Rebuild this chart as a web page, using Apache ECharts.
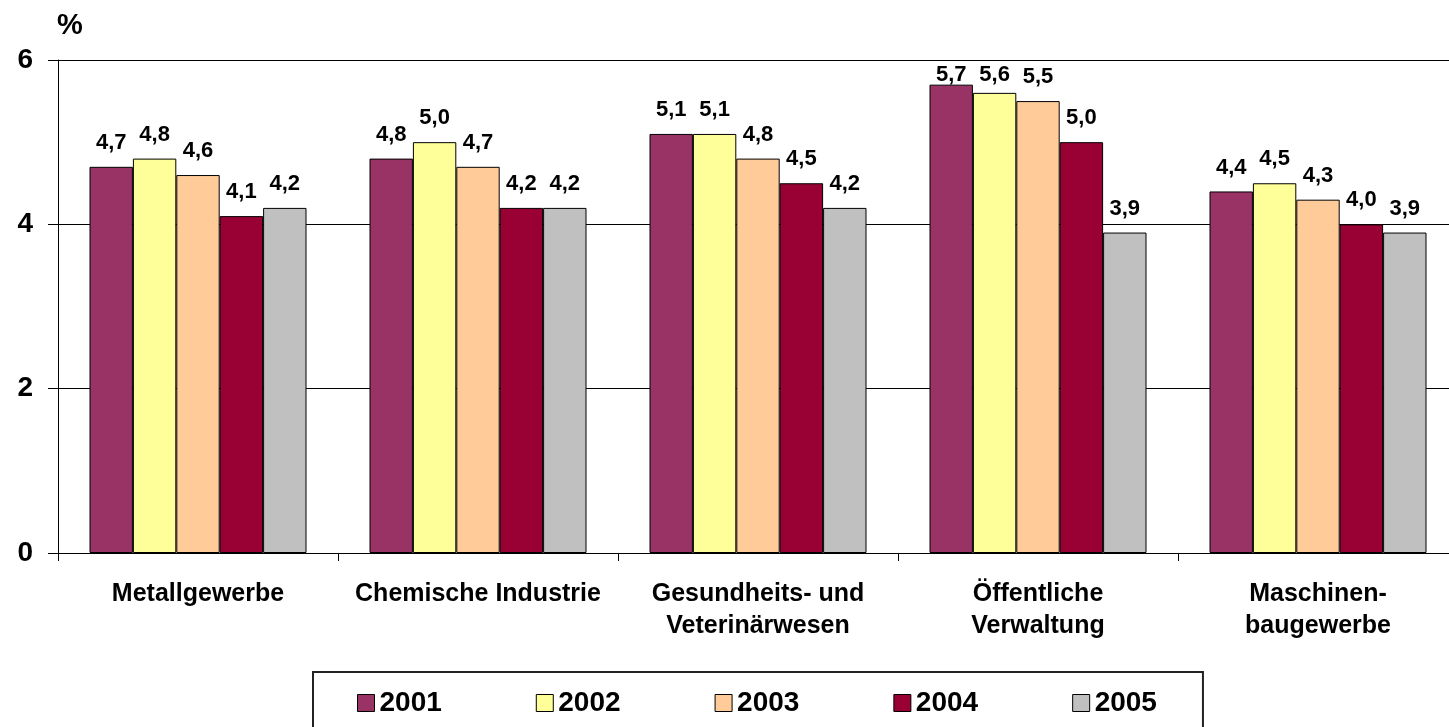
<!DOCTYPE html>
<html>
<head>
<meta charset="utf-8">
<script src="https://cdn.jsdelivr.net/npm/echarts@6/dist/echarts.min.js"></script>
<style>
  html, body { margin: 0; padding: 0; background: #fff; }
  #chart { width: 1449px; height: 727px; }
</style>
</head>
<body>
<div id="chart"></div>
<script>
// Branchen (Kategorien)
const categories = [
  'Metallgewerbe',
  'Chemische Industrie',
  'Gesundheits- und\nVeterinärwesen',
  'Öffentliche\nVerwaltung',
  'Maschinen-\nbaugewerbe'
];
const years = ['2001', '2002', '2003', '2004', '2005'];
// Werte in %, je Jahr
const values2001 = [4.7, 4.8, 5.1, 5.7, 4.4];
const values2002 = [4.8, 5.0, 5.1, 5.6, 4.5];
const values2003 = [4.6, 4.7, 4.8, 5.5, 4.3];
const values2004 = [4.1, 4.2, 4.5, 5.0, 4.0];
const values2005 = [4.2, 4.2, 4.2, 3.9, 3.9];
const yTicks = [0, 2, 4, 6];

const allValues = [values2001, values2002, values2003, values2004, values2005];
const colors = ['#993366', '#FFFF99', '#FFCC99', '#990033', '#C0C0C0'];
const font = 'Liberation Sans, Arial, sans-serif';

const chart = echarts.init(document.getElementById('chart'));

// Labels near the top of the plot get pulled down like Excel does
const pxPerUnit = 493 / 6;
function labelDist(v) {
  return Math.min(13, (6 - v) * pxPerUnit - 26);
}

const series = years.map((y, i) => ({
  name: y,
  type: 'bar',
  barGap: '0%',
  barCategoryGap: '22.5%',
  itemStyle: { color: colors[i], borderColor: '#000', borderWidth: 1 },
  label: {
    show: true,
    position: 'top',
    color: '#000',
    fontFamily: font,
    fontWeight: 'bold',
    fontSize: 22,
    formatter: p => p.value.toFixed(1).replace('.', ',')
  },
  data: allValues[i].map(v => ({ value: v, label: { distance: labelDist(v) } }))
}));

const option = {
  animation: false,
  backgroundColor: '#fff',
  title: {
    text: '%',
    left: 52,
    top: 6,
    textStyle: { fontFamily: font, fontWeight: 'bold', fontSize: 29, color: '#000' }
  },
  legend: {
    data: years,
    left: 313,
    top: 672,
    orient: 'horizontal',
    padding: [17, 46, 17, 44],
    borderColor: '#222',
    borderWidth: 2,
    icon: 'rect',
    itemWidth: 17,
    itemHeight: 17,
    itemGap: 94,
    itemStyle: { borderColor: '#000', borderWidth: 1 },
    textStyle: { fontFamily: font, fontWeight: 'bold', fontSize: 28, color: '#000' }
  },
  // plot area runs past the right edge of the picture, as in the original
  grid: { left: 58, top: 60, width: 1400, height: 493, outerBoundsMode: 'none', containLabel: false },
  xAxis: {
    type: 'category',
    data: categories,
    axisLine: { lineStyle: { color: '#000', width: 1 } },
    axisTick: { show: true, length: 8, lineStyle: { color: '#000' } },
    axisLabel: {
      interval: 0,
      margin: 25,
      color: '#000',
      fontFamily: font,
      fontWeight: 'bold',
      fontSize: 25,
      lineHeight: 32
    }
  },
  yAxis: {
    type: 'value',
    min: yTicks[0],
    max: yTicks[yTicks.length - 1],
    interval: yTicks[1] - yTicks[0],
    axisLine: { show: true, lineStyle: { color: '#000', width: 1 } },
    axisTick: { show: true, length: 10, lineStyle: { color: '#000' } },
    splitLine: { show: true, lineStyle: { color: '#000', width: 1 } },
    axisLabel: {
      margin: 25,
      color: '#000',
      fontFamily: font,
      fontWeight: 'bold',
      fontSize: 28
    }
  },
  series: series
};

chart.setOption(option);
</script>
</body>
</html>
